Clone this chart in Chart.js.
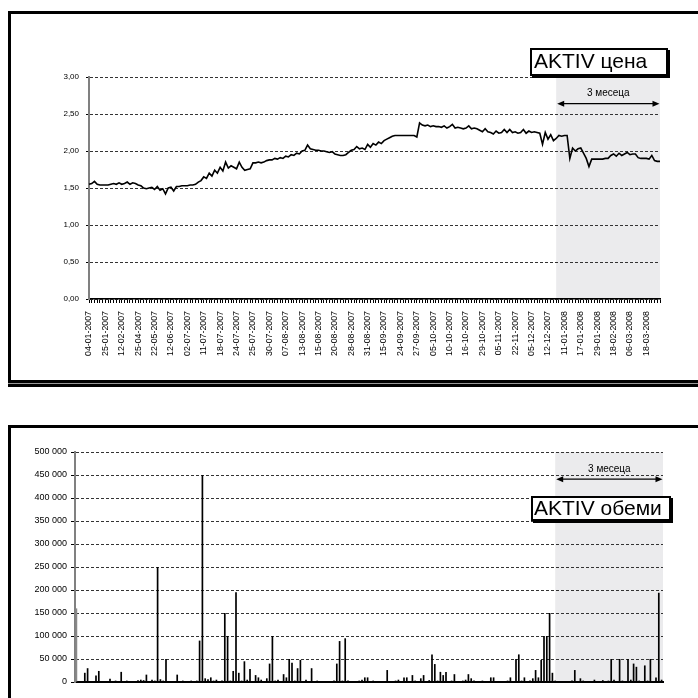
<!DOCTYPE html>
<html>
<head>
<meta charset="utf-8">
<script src="https://cdn.jsdelivr.net/npm/chart.js@4.4.0/dist/chart.umd.min.js"></script>
<style>
  html, body { margin:0; padding:0; background:#fff; width:698px; height:698px; overflow:hidden; position:relative; font-family:"Liberation Sans", Arial, sans-serif; }
  .frame { position:absolute; box-sizing:border-box; border:3px solid #000; background:#fff; }
  #frameTop { left:8px; top:11px; width:720px; height:372px; box-shadow:0 1px 0 #999, 0 4px 0 #000; }
  #frameBot { left:8px; top:425px; width:720px; height:400px; }
  canvas { position:absolute; left:0; }
  #cTop { top:0; }
  #cBot { top:400px; }
  .tag { position:absolute; box-sizing:border-box; border:2px solid #000; background:#fff; box-shadow:2px 2px 0 #000;
         font-family:"Liberation Sans", Arial, sans-serif; font-size:21px; color:#000; white-space:nowrap; }
  #tagTop { left:530px; top:48px; width:138px; height:28px; line-height:22px; padding-left:2px; }
  #tagBot { left:531px; top:496px; width:140px; height:25px; line-height:19px; padding-left:1px; }
</style>
</head>
<body>
<div class="frame" id="frameTop"></div>
<div class="frame" id="frameBot"></div>
<canvas id="cTop" width="698" height="390"></canvas>
<canvas id="cBot" width="698" height="298"></canvas>
<div class="tag" id="tagTop">AKTIV цена</div>
<div class="tag" id="tagBot">AKTIV обеми</div>
<script>
// ---- data ----
const tickDates = ['04-01-2007','25-01-2007','12-02-2007','25-04-2007','22-05-2007','12-06-2007','02-07-2007',
  '11-07-2007','18-07-2007','24-07-2007','25-07-2007','30-07-2007','07-08-2007','13-08-2007','15-08-2007',
  '20-08-2007','28-08-2007','31-08-2007','15-09-2007','24-09-2007','27-09-2007','05-10-2007','10-10-2007',
  '16-10-2007','29-10-2007','05-11-2007','22-11-2007','05-12-2007','12-12-2007','11-01-2008','17-01-2008',
  '29-01-2008','18-02-2008','06-03-2008','18-03-2008'];
const ticksEvery = 6; // trading sessions between labelled dates

const price = [
  1.55,1.56,1.59,1.55,1.54,1.54,1.54,1.54,1.55,1.56,
  1.55,1.57,1.55,1.56,1.58,1.55,1.57,1.56,1.54,1.53,
  1.50,1.49,1.50,1.51,1.48,1.52,1.47,1.49,1.42,1.50,
  1.51,1.46,1.52,1.52,1.53,1.53,1.53,1.54,1.54,1.55,
  1.58,1.60,1.65,1.63,1.70,1.66,1.74,1.70,1.78,1.73,
  1.85,1.77,1.80,1.78,1.76,1.85,1.78,1.74,1.75,1.76,
  1.84,1.84,1.85,1.84,1.85,1.87,1.88,1.88,1.90,1.89,
  1.91,1.90,1.93,1.92,1.95,1.94,1.97,1.96,2.00,2.01,
  2.08,2.03,2.02,2.01,2.01,2.00,2.00,1.99,1.98,1.99,
  1.96,1.95,1.94,1.94,1.95,1.98,2.01,2.02,2.06,2.03,
  2.04,2.02,2.09,2.05,2.10,2.08,2.12,2.10,2.14,2.16,
  2.18,2.20,2.21,2.21,2.21,2.21,2.21,2.21,2.21,2.21,
  2.19,2.38,2.35,2.34,2.35,2.33,2.34,2.33,2.33,2.32,
  2.34,2.31,2.33,2.36,2.31,2.32,2.31,2.30,2.31,2.34,
  2.30,2.31,2.30,2.28,2.26,2.30,2.26,2.25,2.23,2.27,
  2.24,2.25,2.29,2.25,2.29,2.25,2.26,2.24,2.25,2.29,
  2.24,2.27,2.25,2.26,2.25,2.24,2.09,2.25,2.16,2.22,
  2.14,2.17,2.21,2.20,2.21,2.21,1.90,2.04,2.00,2.03,
  2.04,1.97,1.90,1.79,1.89,1.89,1.89,1.89,1.89,1.90,
  1.90,1.94,1.96,1.93,1.97,1.94,1.96,1.98,1.95,1.96,
  1.96,1.91,1.90,1.90,1.90,1.89,1.94,1.87,1.86,1.86
];

const volume = [
  160000,0,2000,20000,30000,0,1000,14000,24000,0,
  1000,0,7000,0,3000,0,22000,1000,3000,0,
  0,1000,4000,5000,4000,16000,2000,5000,3000,250000,
  6000,3000,50000,2000,1000,0,16000,2000,3000,2000,
  2000,3000,2000,3000,90000,450000,8000,6000,10000,3000,
  5000,2000,3000,150000,100000,3000,24000,195000,20000,3000,
  45000,5000,28000,2000,15000,10000,5000,2000,8000,40000,
  100000,3000,5000,2000,17000,10000,50000,42000,3000,30000,
  48000,2000,5000,2000,30000,2000,3000,1000,2000,0,
  2000,1000,3000,40000,89000,3000,95000,3000,2000,1000,
  2000,3000,5000,10000,10000,2000,3000,1000,2000,0,
  1000,26000,2000,0,3000,5000,2000,10000,10000,2000,
  15000,3000,1000,8000,15000,2000,4000,60000,39000,3000,
  22000,15000,22000,2000,3000,17000,2000,0,3000,5000,
  17000,8000,3000,2000,0,3000,2000,1000,10000,10000,
  2000,0,1000,0,3000,10000,2000,50000,60000,3000,
  10000,2000,3000,8000,26000,10000,48000,100000,100000,150000,
  20000,3000,1000,2000,0,1000,2000,3000,26000,2000,
  8000,3000,1000,2000,1000,5000,2000,1000,4000,2000,
  3000,50000,5000,2000,50000,3000,2000,50000,5000,40000,
  33000,3000,2000,36000,3000,50000,2000,10000,194000,5000
];

const windowStart = 171;         // first session of the last 3 months
const windowLabel = '3 месеца';

const categories = price.map((_, i) => (i % ticksEvery === 0 ? (tickDates[i / ticksEvery] || '') : ''));

// ---- plugin: shaded 3-month window + double arrow ----
const windowPlugin = {
  id: 'win',
  beforeDraw(chart, args, o) {
    const { ctx, chartArea: a, scales: { x } } = chart;
    const x0 = x.getPixelForValue(o.start);
    ctx.save();
    ctx.fillStyle = '#ebebed';
    ctx.fillRect(x0, a.top, a.right - x0, a.bottom - a.top);
    ctx.restore();
  },
  afterDatasetsDraw(chart, args, o) {
    const { ctx, chartArea: a, scales: { x, y } } = chart;
    const x0 = x.getPixelForValue(o.start) + 1;
    const x1 = a.right - 0.5;
    const ya = y.getPixelForValue(o.arrowAt);
    const yt = y.getPixelForValue(o.textAt);
    ctx.save();
    ctx.strokeStyle = '#000'; ctx.fillStyle = '#000'; ctx.lineWidth = 1.4;
    ctx.beginPath(); ctx.moveTo(x0 + 4, ya); ctx.lineTo(x1 - 4, ya); ctx.stroke();
    ctx.beginPath(); ctx.moveTo(x0, ya); ctx.lineTo(x0 + 7, ya - 3); ctx.lineTo(x0 + 7, ya + 3); ctx.closePath(); ctx.fill();
    ctx.beginPath(); ctx.moveTo(x1, ya); ctx.lineTo(x1 - 7, ya - 3); ctx.lineTo(x1 - 7, ya + 3); ctx.closePath(); ctx.fill();
    ctx.font = '10px "Liberation Sans", Arial, sans-serif';
    ctx.textAlign = 'center'; ctx.textBaseline = 'middle';
    ctx.fillText(o.text, (x0 + x1) / 2, yt);
    ctx.restore();
  }
};

const FONT = '"Liberation Sans", Arial, sans-serif';

// ---- top chart: price ----
new Chart(document.getElementById('cTop'), {
  type: 'line',
  data: { labels: categories, datasets: [{ data: price, borderColor: '#000', borderWidth: 1.6, pointRadius: 0, tension: 0, fill: false }] },
  options: {
    responsive: false, animation: false, devicePixelRatio: 1,
    layout: { padding: { left: 0, top: 77, right: 38, bottom: 0 } },
    plugins: { legend: { display: false }, tooltip: { enabled: false },
      win: { start: windowStart, arrowAt: 2.64, textAt: 2.78, text: windowLabel } },
    scales: {
      x: {
        offset: false,
        afterFit(s) { s.height = 91; },
        grid: { display: true, drawOnChartArea: false, drawTicks: true, tickLength: 4, color: '#000', lineWidth: 1 },
        border: { display: true, color: '#000', width: 1.5 },
        ticks: { autoSkip: false, minRotation: 90, maxRotation: 90, padding: 8, color: '#000',
                 font: { family: FONT, size: 8.8 } }
      },
      y: {
        min: 0, max: 3,
        afterFit(s) { s.width = 89; },
        grid: { color: '#333', lineWidth: 1, tickLength: 3, tickColor: '#000', tickBorderDash: [] },
        border: { display: true, color: '#808080', width: 2, dash: [3, 2] },
        ticks: { stepSize: 0.5, padding: 7, color: '#000', font: { family: FONT, size: 8 },
                 callback: v => v.toFixed(2).replace('.', ',') }
      }
    }
  },
  plugins: [windowPlugin]
});

// ---- bottom chart: volume ----
new Chart(document.getElementById('cBot'), {
  type: 'bar',
  data: { labels: categories, datasets: [{ data: volume, backgroundColor: ctx => (ctx.dataIndex === 0 ? '#888' : '#000'),
           borderWidth: 0, barPercentage: 0.6, categoryPercentage: 1 }] },
  options: {
    responsive: false, animation: false, devicePixelRatio: 1,
    layout: { padding: { left: 0, top: 52, right: 35, bottom: 0 } },
    plugins: { legend: { display: false }, tooltip: { enabled: false },
      win: { start: windowStart, arrowAt: 441000, textAt: 462000, text: windowLabel } },
    scales: {
      x: {
        afterFit(s) { s.height = 16; },
        grid: { display: false },
        border: { display: true, color: '#000', width: 2 },
        ticks: { display: false }
      },
      y: {
        min: 0, max: 500000,
        afterFit(s) { s.width = 75; },
        grid: { color: '#333', lineWidth: 1, tickLength: 4, tickColor: '#000' },
        border: { display: true, color: '#808080', width: 2, dash: [3, 2] },
        ticks: { stepSize: 50000, padding: 4, color: '#000', font: { family: FONT, size: 9 },
                 callback: v => String(v).replace(/\B(?=(\d{3})+(?!\d))/g, ' ') }
      }
    }
  },
  plugins: [windowPlugin]
});
</script>
</body>
</html>
